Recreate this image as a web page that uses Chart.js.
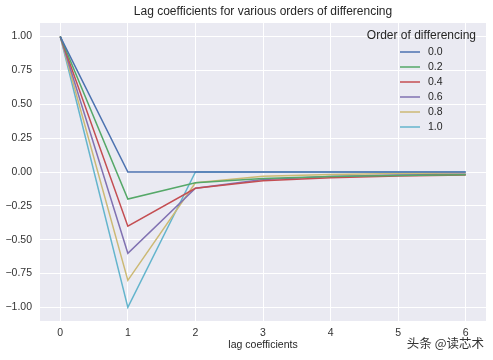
<!DOCTYPE html>
<html><head><meta charset="utf-8">
<script src="https://cdn.jsdelivr.net/npm/chart.js@4"></script>
<style>html,body{margin:0;padding:0;background:#fff}#wrap{width:493px;height:360px}</style>
</head><body><div id="wrap"><canvas id="c"></canvas></div>
<script>
const lags = [0, 1, 2, 3, 4, 5, 6];
const orders = ["0.0", "0.2", "0.4", "0.6", "0.8", "1.0"];
const w00 = [1, 0, 0, 0, 0, 0, 0];
const w02 = [1, -0.2, -0.08, -0.048, -0.034, -0.026, -0.020];
const w04 = [1, -0.4, -0.12, -0.064, -0.042, -0.030, -0.023];
const w06 = [1, -0.6, -0.12, -0.056, -0.034, -0.023, -0.017];
const w08 = [1, -0.8, -0.08, -0.032, -0.018, -0.011, -0.008];
const w10 = [1, -1, 0, 0, 0, 0, 0];
const yTicks = [-1, -0.75, -0.5, -0.25, 0, 0.25, 0.5, 0.75, 1];
const titleText = "Lag coefficients for various orders of differencing";
const xLabel = "lag coefficients";
const legendTitle = "Order of differencing";
const watermark = "头条 @读芯术";

const colors = ["#4C72B0", "#55A868", "#C44E52", "#8172B2", "#CCB974", "#64B5CD"];
const series = [w00, w02, w04, w06, w08, w10];
const FONT = "'Liberation Sans', Arial, sans-serif";

const datasets = series.map((s, i) => ({
  label: orders[i],
  data: s.map((v, k) => ({x: lags[k], y: v})),
  borderColor: colors[i],
  backgroundColor: colors[i],
  borderWidth: 1.5,
  pointRadius: 0,
  tension: 0,
  fill: false
}));

const bgPlugin = {
  id: 'bg',
  beforeDraw(chart) {
    const {ctx, chartArea: a} = chart;
    ctx.save();
    ctx.fillStyle = '#EAEAF2';
    ctx.fillRect(a.left, a.top, a.right - a.left, a.bottom - a.top);
    ctx.restore();
  },
  afterDraw(chart) {
    const {ctx, chartArea: a} = chart;
    ctx.save();
    ctx.fillStyle = '#262626';
    ctx.textAlign = 'center';
    ctx.textBaseline = 'middle';
    ctx.font = "12px " + FONT;
    ctx.fillText(titleText, (a.left + a.right) / 2, 12);
    ctx.font = "10.5px " + FONT;
    ctx.fillText(xLabel, (a.left + a.right) / 2, 345);
    // legend
    ctx.font = "12px " + FONT;
    ctx.textAlign = 'right';
    ctx.fillText(legendTitle, 476, 36);
    ctx.font = "10.5px " + FONT;
    ctx.textAlign = 'left';
    orders.forEach((o, i) => {
      const y = 52 + i * 15;
      ctx.strokeStyle = colors[i];
      ctx.lineWidth = 1.5;
      ctx.beginPath();
      ctx.moveTo(400, y);
      ctx.lineTo(420, y);
      ctx.stroke();
      ctx.fillStyle = '#262626';
      ctx.fillText(o, 428, y);
    });
    // watermark
    ctx.font = "12.5px 'Noto Sans CJK SC', sans-serif";
    ctx.textAlign = 'right';
    ctx.fillStyle = '#333';
    ctx.fillText(watermark, 484, 343);
    ctx.restore();
  }
};

new Chart(document.getElementById('c'), {
  type: 'line',
  data: {datasets},
  options: {
    responsive: true,
    maintainAspectRatio: false,
    animation: false,
    layout: {padding: {top: 23, right: 7, left: 0, bottom: 0}},
    plugins: {legend: {display: false}, title: {display: false}, tooltip: {enabled: false}},
    scales: {
      x: {
        type: 'linear', min: -0.3, max: 6.3,
        afterFit(s) { s.height = 39; },
        afterBuildTicks(s) { s.ticks = lags.map(v => ({value: v})); },
        grid: {color: '#ffffff', lineWidth: 1, drawTicks: false},
        border: {display: false},
        ticks: {color: '#333', font: {size: 10.5, family: FONT}, padding: 6, maxRotation: 0,
          callback: v => String(v)}
      },
      y: {
        type: 'linear', min: -1.1, max: 1.1,
        afterFit(s) { s.width = 40; },
        afterBuildTicks(s) { s.ticks = yTicks.map(v => ({value: v})); },
        grid: {color: '#ffffff', lineWidth: 1, drawTicks: false},
        border: {display: false},
        ticks: {color: '#333', font: {size: 10.5, family: FONT}, padding: 8,
          callback: v => (v < 0 ? '\u2212' : '') + Math.abs(v).toFixed(2)}
      }
    }
  },
  plugins: [bgPlugin]
});
</script></body></html>
